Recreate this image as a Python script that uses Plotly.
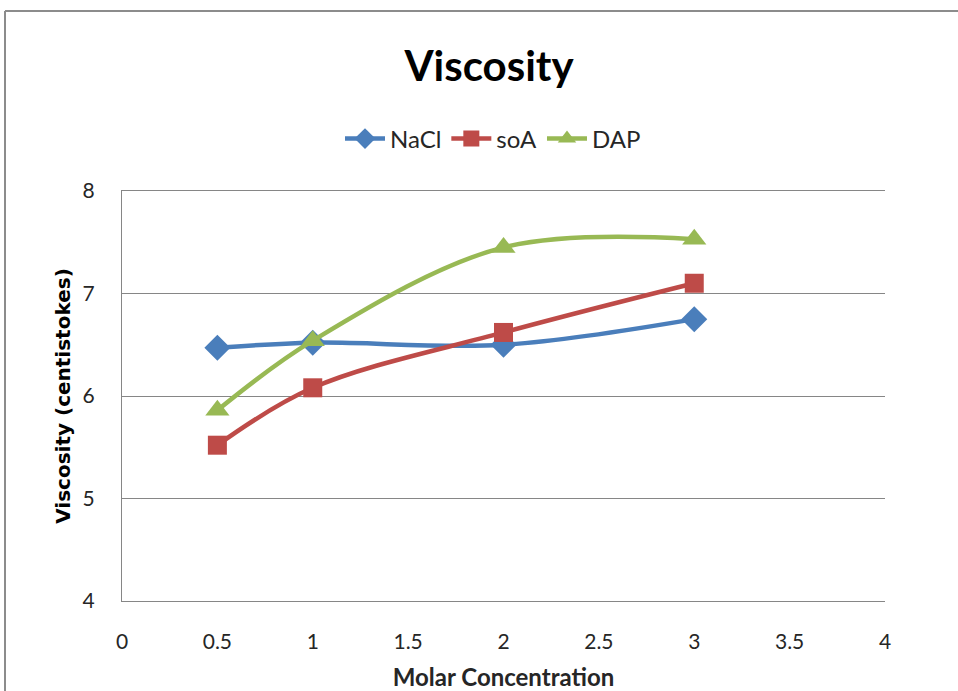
import plotly.graph_objects as go

concentration = [0.5, 1, 2, 3]
nacl = [6.47, 6.52, 6.50, 6.75]
soa = [5.52, 6.08, 6.62, 7.10]
dap = [5.86, 6.54, 7.45, 7.53]

series_names = ["NaCl", "soA", "DAP"]
series_values = [nacl, soa, dap]
colors = ["#4A7EBB", "#BE4B48", "#98B954"]
symbols = ["diamond", "square", "triangle-up"]
sizes = [20, 19, 21]

W, H = 958, 691
L, R, T, B = 122, 73, 191, 90

fig = go.Figure()
for name, vals, c, s, sz in zip(series_names, series_values, colors, symbols, sizes):
    fig.add_trace(go.Scatter(
        x=concentration, y=vals, name=name, mode="lines+markers",
        line=dict(color=c, width=4.5, shape="spline", smoothing=1),
        marker=dict(symbol=s, size=sz, color=c),
    ))

pw = W - L - R
ph = H - T - B

def px_to_paper_x(px):
    return (px - L) / pw

def px_to_paper_y(py):
    return (H - B - py) / ph

border = "#8C8C8C"
shapes = [
    dict(type="line", xref="paper", yref="paper",
         x0=px_to_paper_x(5), x1=px_to_paper_x(970), y0=px_to_paper_y(11), y1=px_to_paper_y(11),
         line=dict(color=border, width=2)),
    dict(type="line", xref="paper", yref="paper",
         x0=px_to_paper_x(5), x1=px_to_paper_x(5), y0=px_to_paper_y(11), y1=px_to_paper_y(700),
         line=dict(color=border, width=2)),
]

fig.update_layout(
    width=W, height=H,
    margin=dict(l=L, r=R, t=T, b=B),
    paper_bgcolor="white", plot_bgcolor="white",
    font=dict(family="Lato, sans-serif", color="#262626"),
    title=dict(text="<b>Viscosity</b>", x=489 / W, xanchor="center",
               y=1 - 66 / H, yanchor="middle", yref="container",
               font=dict(family="Lato, sans-serif", size=42, color="black")),
    legend=dict(orientation="h", x=px_to_paper_x(493), xanchor="center",
                y=px_to_paper_y(139), yanchor="middle",
                font=dict(family="Lato, sans-serif", size=24, color="#262626"),
                itemwidth=40, bgcolor="rgba(0,0,0,0)"),
    showlegend=True,
    shapes=shapes,
)

fig.update_xaxes(
    range=[0, 4], dtick=0.5, tick0=0, showgrid=False, zeroline=False,
    showline=True, mirror=True, linecolor="#868686", linewidth=1,
    ticks="", ticklabelstandoff=22, automargin=False,
    tickfont=dict(family="Lato, sans-serif", size=21, color="#262626"),
    title=dict(text="<b>Molar Concentration</b>", standoff=18,
               font=dict(family="Lato, sans-serif", size=24, color="#262626")),
)
fig.update_yaxes(
    range=[4, 8], dtick=1, tick0=4, showgrid=True, gridcolor="#868686", gridwidth=1,
    zeroline=False, showline=True, linecolor="#868686", linewidth=1,
    ticks="", ticklabelstandoff=22, automargin=False,
    tickfont=dict(family="Lato, sans-serif", size=21, color="#262626"),
    title=dict(text="<b>Viscosity (centistokes)</b>", standoff=6,
               font=dict(family="DejaVu Sans, sans-serif", size=20, color="black")),
)

fig.write_html("out.html")
